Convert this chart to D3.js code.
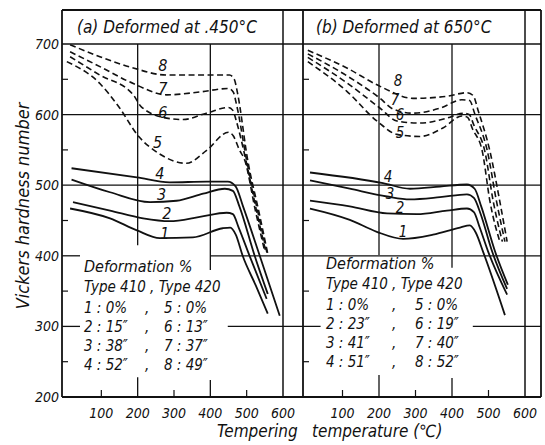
<!DOCTYPE html>
<html><head><meta charset="utf-8">
<script src="https://cdn.jsdelivr.net/npm/d3@7"></script>
<style>
body{margin:0;background:#fff}
text{font-family:"DejaVu Sans Condensed","DejaVu Sans",sans-serif;font-style:italic;fill:#111}
</style>
</head><body><svg id="c" width="545" height="445"></svg>
<script>
// ---------- data ----------
const tempTicks = [100, 200, 300, 400, 500, 600];
const hardTicks = [200, 300, 400, 500, 600, 700];
const minorTemp = [100, 300, 500];
const minorHard = [250, 350, 450, 550, 650];
const panelTitles = ["(a) Deformed at .450°C", "(b) Deformed at 650°C"];
const curveNames = ["1", "2", "3", "4", "5", "6", "7", "8"];
const yTitle = "Vickers hardness number";
const xTitle1 = "Tempering";
const xTitle2 = "temperature (℃)";

// panel (a) deformed at 450°C : [temperature, hardness]
const a1 = [[14,467],[124,453],[198,436],[261,425],[352,426],[434,439],[455,440],[470,430],[489,400],[525,358],[558,318]];
const a2 = [[22,476],[124,464],[215,453],[288,449],[371,455],[445,461],[462,459],[478,440],[508,400],[555,339]];
const a3 = [[18,508],[124,490],[234,476],[307,478],[380,488],[440,495],[462,492],[480,470],[522,400],[558,346]];
const a4 = [[18,524],[198,511],[288,504],[390,505],[448,505],[470,498],[490,470],[536,400],[591,315]];
const a5 = [[5,675],[96,644],[148,611],[203,569],[258,545],[334,531],[389,549],[450,575],[463,570],[480,550],[495,535],[524,464],[550,406]];
const a6 = [[14,682],[96,656],[188,628],[210,611],[280,595],[325,593],[389,602],[450,610],[462,606],[472,590],[498,535],[527,464],[553,405]];
const a7 = [[14,689],[96,668],[188,644],[280,628],[370,632],[450,637],[463,632],[473,612],[500,535],[530,464],[556,404]];
const a8 = [[14,699],[96,682],[188,666],[280,656],[400,656],[453,656],[466,650],[475,630],[503,535],[533,464],[558,403]];

// panel (b) deformed at 650°C
const b1 = [[11,467],[120,451],[194,434],[266,424],[348,430],[422,440],[449,443],[465,433],[485,406],[545,316]];
const b2 = [[11,478],[120,470],[222,460],[304,459],[386,464],[441,467],[460,462],[476,440],[499,406],[551,345]];
const b3 = [[11,507],[120,495],[222,484],[285,480],[367,483],[441,487],[460,482],[478,460],[510,406],[551,353]];
const b4 = [[11,518],[211,503],[285,495],[367,498],[441,501],[462,495],[480,470],[518,406],[553,359]];
const b5 = [[5,675],[112,633],[194,591],[249,572],[312,569],[375,581],[427,598],[443,596],[456,580],[483,548],[504,477],[531,420]];
const b6 = [[5,681],[112,645],[203,609],[249,591],[312,588],[386,595],[430,602],[447,600],[460,585],[490,548],[513,477],[538,420]];
const b7 = [[5,686],[112,655],[203,623],[238,608],[293,602],[367,609],[427,621],[448,620],[463,600],[497,548],[522,477],[545,420]];
const b8 = [[5,691],[112,666],[203,640],[293,623],[386,626],[441,631],[458,627],[472,605],[504,548],[531,477],[551,420]];

// curve number label anchors, in [temperature, hardness]
const labelsA = [[275,433],[280,460],[266,488],[261,517],[255,561],[269,603],[269,637],[269,670]];
const labelsB = [[266,434],[258,467],[230,488],[225,512],[258,574],[258,600],[244,621],[252,648]];

// legend text
const legendHead = ["Deformation %", "Type 410 , Type 420"];
const legendA = [["1 :  0%", "5 :  0%"], ["2 : 15″", "6 : 13″"], ["3 : 38″", "7 : 37″"], ["4 : 52″", "8 : 49″"]];
const legendB = [["1 :  0%", "5 :  0%"], ["2 : 23″", "6 : 19″"], ["3 : 41″", "7 : 40″"], ["4 : 51″", "8 : 52″"]];

// ---------- drawing ----------
const svg = d3.select("#c");
const y = d3.scaleLinear().domain([200, 700]).range([397, 44]);
const xA = d3.scaleLinear().domain([0, 600]).range([65, 283]);
const xB = d3.scaleLinear().domain([0, 600]).range([306, 525]);
const L = 62, R = 541, T = 10, B = y(200), LB = 303;
const ink = "#111";

const g = svg.append("g").attr("stroke", ink).attr("fill", "none");
function seg(x1, y1, x2, y2, w) {
  g.append("line").attr("x1", x1).attr("y1", y1).attr("x2", x2).attr("y2", y2)
    .attr("stroke-width", w || 1.3);
}
// frame
seg(L, T, R, T, 1.8); seg(L, B, R, B, 1.8);
seg(L, T, L, B, 1.8); seg(R, T, R, B, 1.8);
seg(xA(600), T, xA(600), B, 1.5); seg(LB, T, LB, B, 1.8); seg(xB(600), T, xB(600), B, 1.5);
seg(L, y(700), R, y(700), 1.5);
// horizontal grid
seg(L, y(600), R, y(600)); seg(L, y(500), R, y(500));
seg(L, y(400), L + 18, y(400)); seg(xA(400), y(400), R, y(400));
seg(L, y(300), L + 18, y(300)); seg(xA(448), y(300), xB(40), y(300)); seg(xB(457), y(300), R, y(300));
// vertical grid
seg(xA(200), y(700), xA(200), y(415)); seg(xA(200), y(228), xA(200), B);
seg(xA(400), y(700), xA(400), y(380)); seg(xA(400), y(224), xA(400), B);
seg(xB(200), y(700), xB(200), y(401)); seg(xB(200), y(231), xB(200), B);
seg(xB(400), y(700), xB(400), y(383)); seg(xB(400), y(227), xB(400), B);
// minor ticks
minorTemp.forEach(t => { seg(xA(t), B, xA(t), B - 7, 1.2); seg(xB(t), B, xB(t), B - 7, 1.2); });
minorHard.forEach(h => { seg(L, y(h), L + 6, y(h), 1.2); seg(LB, y(h), LB + 6, y(h), 1.2); });

// curves
const line = (x) => d3.line().x(d => x(d[0])).y(d => y(d[1])).curve(d3.curveMonotoneX);
const seriesA = [a1, a2, a3, a4, a5, a6, a7, a8];
const seriesB = [b1, b2, b3, b4, b5, b6, b7, b8];
function drawCurves(series, x) {
  series.forEach((s, i) => {
    g.append("path").attr("d", line(x)(s))
      .attr("stroke-width", i < 4 ? 1.8 : 1.6)
      .attr("stroke-dasharray", i < 4 ? null : "6,3.5");
  });
}
drawCurves(seriesA, xA);
drawCurves(seriesB, xB);

// text
const t = svg.append("g");
function txt(x, yy, s, size, anchor) {
  return t.append("text").attr("x", x).attr("y", yy).attr("font-size", size)
    .attr("text-anchor", anchor || "start").text(s);
}
txt(77, 33, panelTitles[0], 17);
txt(316, 33, panelTitles[1], 17);
hardTicks.forEach(h => txt(59, y(h) + 5, h, 14, "end"));
tempTicks.forEach(v => { txt(xA(v), 418, v, 14, "middle"); txt(xB(v), 418, v, 14, "middle"); });
t.append("text").attr("transform", "translate(29,206) rotate(-90)")
  .attr("text-anchor", "middle").attr("font-size", 18).text(yTitle);
txt(217, 437, xTitle1, 17);
txt(312, 437, xTitle2, 17);

curveNames.forEach((n, i) => {
  txt(xA(labelsA[i][0]), y(labelsA[i][1]) + 6, n, 16, "middle");
  txt(xB(labelsB[i][0]), y(labelsB[i][1]) + 5, n, 15, "middle");
});

function legend(x0, yHead, rows, commaX, x2) {
  txt(x0, yHead, legendHead[0], 16);
  txt(x0, yHead + 20, legendHead[1], 15);
  rows.forEach((r, i) => {
    const yy = yHead + 41 + i * 19;
    txt(x0, yy, r[0], 15);
    txt(commaX, yy, ",", 15);
    txt(x2, yy, r[1], 15);
  });
}
legend(84, 272, legendA, 145, 164);
legend(326, 269, legendB, 392, 415);
</script>
</body></html>
